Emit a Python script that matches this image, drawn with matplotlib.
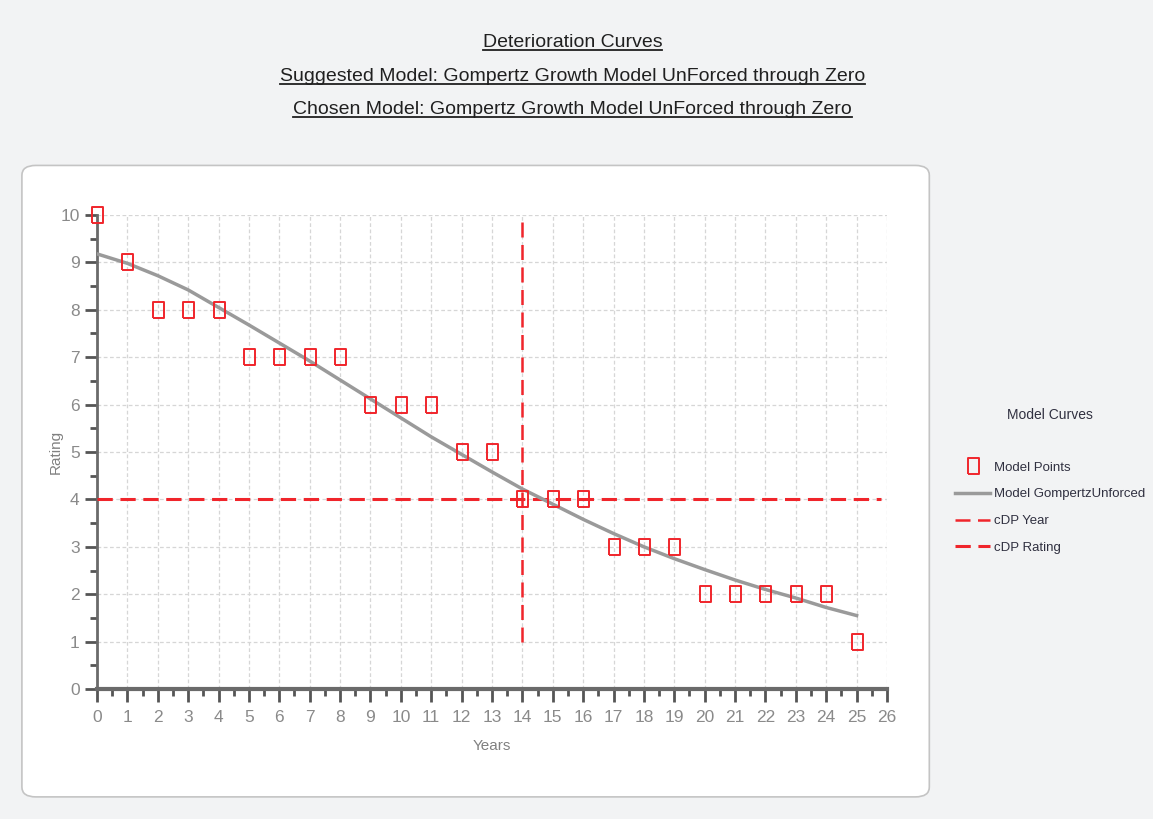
import matplotlib
matplotlib.use("Agg")
import matplotlib.pyplot as plt
from matplotlib.patches import FancyBboxPatch
from matplotlib.lines import Line2D
from matplotlib.ticker import MultipleLocator

plt.rcParams['font.family'] = ['Liberation Sans', 'DejaVu Sans']

# data
years = list(range(26))
ratings = [10, 9, 8, 8, 8, 7, 7, 7, 7, 6, 6, 6, 5, 5, 4, 4, 4, 3, 3, 3, 2, 2, 2, 2, 2, 1]
curve = [9.18, 8.98, 8.72, 8.42, 8.05, 7.68, 7.30, 6.92, 6.52, 6.12, 5.72, 5.32, 4.95,
         4.58, 4.22, 3.90, 3.58, 3.28, 3.00, 2.75, 2.52, 2.30, 2.10, 1.92, 1.72, 1.55]
cdp_year = 14
cdp_rating = 4
titles = ["Deterioration Curves",
          "Suggested Model: Gompertz Growth Model UnForced through Zero",
          "Chosen Model: Gompertz Growth Model UnForced through Zero"]

fig = plt.figure(figsize=(11.53, 8.19), dpi=100)
fig.patch.set_facecolor('#f2f3f4')

# white rounded panel
panel = FancyBboxPatch((0.019, 0.027), 0.787, 0.771, boxstyle="round,pad=0,rounding_size=0.012",
                       transform=fig.transFigure, facecolor='white', edgecolor='#c4c4c4',
                       linewidth=1.2, zorder=-5)
fig.patches.append(panel)

ax = fig.add_axes([0.0841, 0.1587, 0.6852, 0.5788])
ax.set_facecolor('none')
ax.set_zorder(2)

red = '#f0252b'
rect = [(-0.36, -0.5), (0.36, -0.5), (0.36, 0.5), (-0.36, 0.5), (-0.36, -0.5)]
ax.plot(years, ratings, linestyle='none', marker=rect, markersize=11, markerfacecolor='none',
        markeredgecolor=red, markeredgewidth=1.4, label='Model Points', zorder=5, clip_on=False)
ax.plot(years, curve, color='#9a9a9a', linewidth=2.5, label='Model GompertzUnforced', zorder=4)
ax.plot([cdp_year, cdp_year], [1, 10], color=red, linewidth=1.8, dashes=(6, 3),
        label='cDP Year', zorder=3)
ax.plot([0, 25.8], [cdp_rating, cdp_rating], color=red, linewidth=2.2, dashes=(5, 2.5),
        label='cDP Rating', zorder=3)

ax.set_xlim(0, 26)
ax.set_ylim(0, 10)
ax.xaxis.set_major_locator(MultipleLocator(1))
ax.xaxis.set_minor_locator(MultipleLocator(0.5))
ax.yaxis.set_major_locator(MultipleLocator(1))
ax.yaxis.set_minor_locator(MultipleLocator(0.5))
ax.grid(True, which='major', color='#d6d6d6', linestyle=(0, (3, 2)), linewidth=0.9)
ax.set_axisbelow(True)

for s in ['top', 'right']:
    ax.spines[s].set_visible(False)
ax.spines['left'].set_color('#6a6a6a')
ax.spines['left'].set_linewidth(2)
ax.spines['bottom'].set_color('#6a6a6a')
ax.spines['bottom'].set_linewidth(3)

ax.tick_params(axis='both', which='major', length=9, width=2, color='#555555',
               labelcolor='#8a8a8a', labelsize=12.5, direction='out')
ax.tick_params(axis='both', which='minor', length=5, width=2, color='#555555', direction='out')
ax.tick_params(axis='x', pad=6)

ax.set_xlabel('Years', color='#808080', fontsize=11, labelpad=10)
ax.set_ylabel('Rating', color='#808080', fontsize=11, labelpad=-2)

# legend
fig.text(0.911, 0.493, 'Model Curves', ha='center', va='center', fontsize=10, color='#303040')
fig.legend(loc='upper left', bbox_to_anchor=(0.824, 0.443), frameon=False, fontsize=9.5,
           handlelength=2.6, handletextpad=0.3, labelspacing=1.1, borderaxespad=0,
           labelcolor='#303040')

# underlined titles
title_y = [0.948, 0.907, 0.866]
texts = []
for t, y in zip(titles, title_y):
    texts.append(fig.text(0.4965, y, t, ha='center', va='center', fontsize=14, color='#202020'))

fig.canvas.draw()
renderer = fig.canvas.get_renderer()
inv = fig.transFigure.inverted()
for tx in texts:
    bb = tx.get_window_extent(renderer).transformed(inv)
    fig.lines.append(Line2D([bb.x0, bb.x1], [bb.y0 + 0.001, bb.y0 + 0.001], transform=fig.transFigure,
                            color='#202020', linewidth=1.3))

fig.savefig('out.png', dpi=100, facecolor=fig.get_facecolor())
